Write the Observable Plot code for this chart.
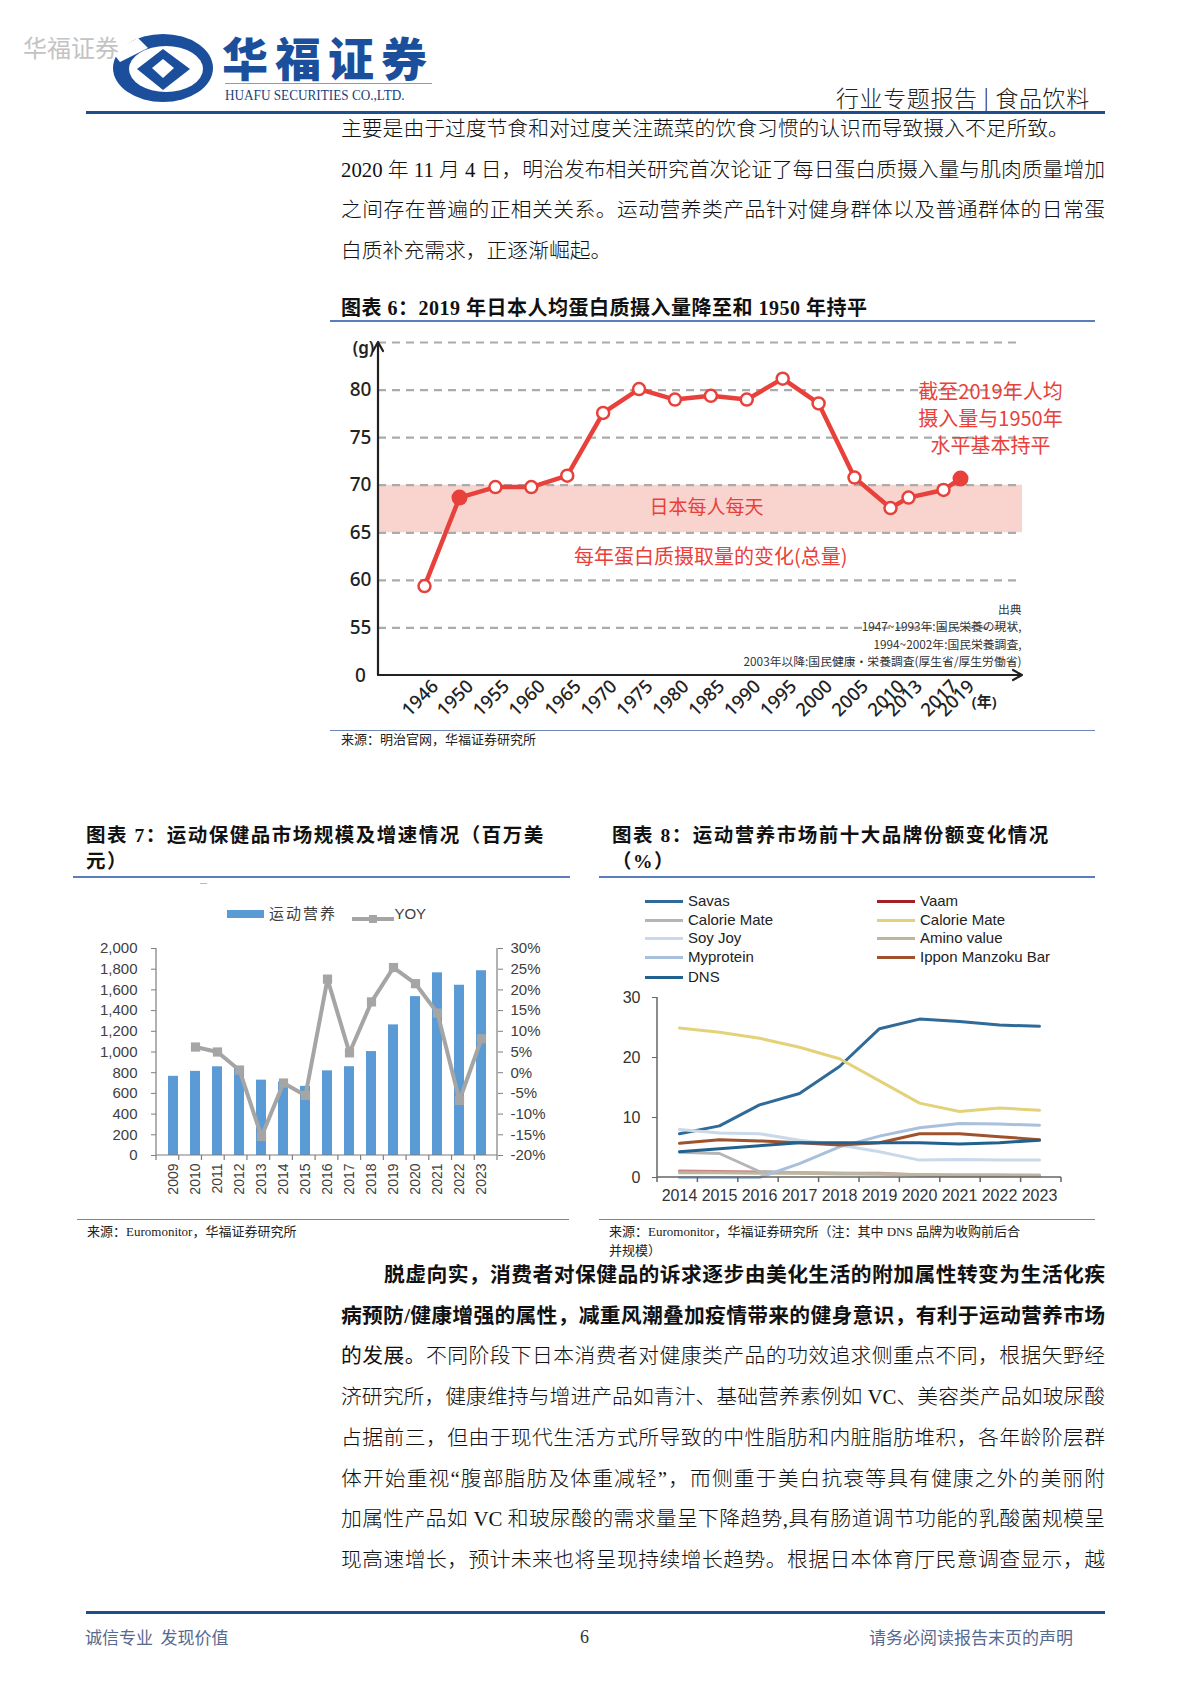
<!DOCTYPE html>
<html><head><meta charset="utf-8">
<script src="https://cdn.jsdelivr.net/npm/d3@7"></script>
<script src="https://cdn.jsdelivr.net/npm/@observablehq/plot@0.6"></script>
<style>
html,body{margin:0;padding:0;background:#fff;}
#page{position:relative;width:1190px;height:1683px;overflow:hidden;font-family:"Liberation Serif","Noto Sans CJK SC",serif;color:#111;background:#fff;}
.abs{position:absolute;white-space:nowrap;}
.bl{position:absolute;left:341px;width:764px;font-size:20.8px;line-height:24px;text-align:justify;text-align-last:justify;font-weight:300;}
.bl.last{text-align:left;text-align-last:left;}
.ttl{position:absolute;font-weight:bold;font-size:19.5px;line-height:26px;white-space:nowrap;letter-spacing:0.5px;}
.hr{position:absolute;height:1.5px;background:#5a7dbd;}
.src{position:absolute;font-size:13px;line-height:19px;color:#222;white-space:nowrap;}
.lg{position:absolute;font-family:"Liberation Sans",Arial,sans-serif;font-size:15px;color:#222;white-space:nowrap;line-height:18px;}
.sw{display:inline-block;vertical-align:middle;width:38px;height:3px;margin-right:5px;position:relative;top:-1px;}
svg{overflow:visible;}
</style></head>
<body><div id="page">

<!-- header -->
<svg class="abs" style="left:108px;top:32px" width="110" height="72" viewBox="0 0 110 72">
  <ellipse cx="55" cy="36" rx="50" ry="34" fill="#1b4f9c"/>
  <ellipse cx="58" cy="37" rx="37" ry="23" fill="#fff"/>
  <path d="M 29 37 L 55 17 L 82 37 L 55 58 Z" fill="#1b4f9c"/>
  <path d="M 44 36 L 55 27 L 66 36 L 55 46 Z" fill="#fff"/>
  <path d="M 4 20 L 30 6 L 40 16 L 12 30 Z" fill="#fff"/>
</svg>
<div class="abs" style="left:23px;top:32px;font-family:'Noto Sans CJK SC';font-size:24px;line-height:30px;color:#bdbdbd;opacity:0.9">华福证券</div>
<div class="abs" style="left:222px;top:26px;font-family:'Noto Sans CJK SC';font-weight:900;font-size:46px;line-height:60px;color:#1b4f9c;letter-spacing:7px">华福证券</div>
<div class="abs" style="left:225px;top:83px;width:207px;height:1px;background:#9a9a9a"></div>
<div class="abs" style="left:225px;top:86px;font-family:'Liberation Serif';font-size:15px;line-height:18px;color:#1b3f7c;transform:scaleX(0.88);transform-origin:left top;">HUAFU SECURITIES CO.,LTD.</div>
<div class="abs" style="left:836px;top:82px;font-family:'Noto Sans CJK SC';font-weight:300;font-size:23px;line-height:30px;color:#222;letter-spacing:0.6px">行业专题报告 | 食品饮料</div>
<div class="abs" style="left:86px;top:111px;width:1019px;height:3px;background:#1f4e8c"></div>

<!-- body top -->
<div class="bl last" style="top:117px">主要是由于过度节食和对过度关注蔬菜的饮食习惯的认识而导致摄入不足所致。</div>
<div class="bl" style="top:158px">2020 年 11 月 4 日，明治发布相关研究首次论证了每日蛋白质摄入量与肌肉质量增加</div>
<div class="bl" style="top:198px">之间存在普遍的正相关关系。运动营养类产品针对健身群体以及普通群体的日常蛋</div>
<div class="bl last" style="top:239px">白质补充需求，正逐渐崛起。</div>

<!-- chart 6 title -->
<div class="ttl" style="left:341px;top:295px;font-size:20px">图表 6：2019 年日本人均蛋白质摄入量降至和 1950 年持平</div>
<div class="hr" style="left:330px;top:320px;width:765px"></div>
<div id="c6" class="abs" style="left:330px;top:330px"></div>
<div class="hr" style="left:330px;top:730px;width:765px;height:1px;background:#6c86b8"></div>
<div class="src" style="left:341px;top:730px">来源：明治官网，华福证券研究所</div>

<!-- chart 7 -->
<div class="ttl" style="left:86px;top:823px;letter-spacing:1.5px">图表 7：运动保健品市场规模及增速情况（百万美<br>元）</div>
<div class="hr" style="left:73px;top:876px;width:497px"></div>
<div class="abs" style="left:200px;top:883px;width:7px;height:1px;background:#bbb"></div>
<div class="lg" style="left:227px;top:904px;font-family:'Noto Sans CJK SC','Liberation Sans';color:#404040">
  <span style="display:inline-block;width:37px;height:8px;background:#5b9bd5;vertical-align:middle;margin-right:5px;position:relative;top:-1px"></span><span style="letter-spacing:2px">运动营养</span>
  <span style="display:inline-block;width:42px;height:10px;vertical-align:middle;margin-left:12px;position:relative;top:-1px"><svg width="42" height="10"><line x1="0" y1="5" x2="42" y2="5" stroke="#a5a5a5" stroke-width="4"/><rect x="17" y="1" width="8" height="8" fill="#a5a5a5"/></svg></span><span style="font-family:'Liberation Sans',Arial">YOY</span>
</div>
<div id="c7" class="abs" style="left:60px;top:930px"></div>
<div class="hr" style="left:77px;top:1219px;width:492px;height:1px;background:#6c86b8"></div>
<div class="src" style="left:87px;top:1222px">来源：Euromonitor，华福证券研究所</div>

<!-- chart 8 -->
<div class="ttl" style="left:612px;top:823px;letter-spacing:1.5px">图表 8：运动营养市场前十大品牌份额变化情况<br>（%）</div>
<div class="hr" style="left:599px;top:876px;width:496px"></div>
<div id="lg8"></div>
<div id="c8" class="abs" style="left:600px;top:985px"></div>
<div class="hr" style="left:599px;top:1219px;width:496px;height:1px;background:#6c86b8"></div>
<div class="src" style="left:609px;top:1222px">来源：Euromonitor，华福证券研究所（注：其中 DNS 品牌为收购前后合<br>并规模）</div>

<!-- body bottom -->
<div class="bl" style="top:1263px;left:384px;width:721px;font-weight:bold">脱虚向实，消费者对保健品的诉求逐步由美化生活的附加属性转变为生活化疾</div>
<div class="bl" style="top:1304px;font-weight:bold">病预防/健康增强的属性，减重风潮叠加疫情带来的健身意识，有利于运动营养市场</div>
<div class="bl" style="top:1344px"><b>的发展。</b>不同阶段下日本消费者对健康类产品的功效追求侧重点不同，根据矢野经</div>
<div class="bl" style="top:1385px">济研究所，健康维持与增进产品如青汁、基础营养素例如 VC、美容类产品如玻尿酸</div>
<div class="bl" style="top:1426px">占据前三，但由于现代生活方式所导致的中性脂肪和内脏脂肪堆积，各年龄阶层群</div>
<div class="bl" style="top:1467px">体开始重视“腹部脂肪及体重减轻”，而侧重于美白抗衰等具有健康之外的美丽附</div>
<div class="bl" style="top:1507px">加属性产品如 VC 和玻尿酸的需求量呈下降趋势,具有肠道调节功能的乳酸菌规模呈</div>
<div class="bl" style="top:1548px">现高速增长，预计未来也将呈现持续增长趋势。根据日本体育厅民意调查显示，越</div>

<!-- footer -->
<div class="abs" style="left:86px;top:1611px;width:1019px;height:3px;background:#1f4e8c"></div>
<div class="abs" style="left:85px;top:1626px;font-size:17px;line-height:22px;color:#56698f;font-family:'Noto Sans CJK SC'">诚信专业&nbsp;&nbsp;发现价值</div>
<div class="abs" style="left:580px;top:1626px;font-size:18px;line-height:22px;color:#333">6</div>
<div class="abs" style="left:869px;top:1626px;font-size:17px;line-height:22px;color:#56698f;font-family:'Noto Sans CJK SC'">请务必阅读报告末页的声明</div>

</div>
<script>
// ---------- Chart 6 data ----------
const years6 = [1946,1950,1955,1960,1965,1970,1975,1980,1985,1990,1995,2000,2005,2010,2013,2017,2019];
const protein6 = [59.4,68.7,69.8,69.8,71.0,77.6,80.1,79.0,79.4,79.0,81.2,78.6,70.8,67.6,68.7,69.5,70.7];
const highlight6 = [1950,2019];
const yTickValues6 = [50,55,60,65,70,75,80];
const yTickLabels6 = ["0","55","60","65","70","75","80"];
const gridValues6 = [55,60,65,70,75,80,85];
const band6 = [65,70];
const yearUnit6 = "(年)";
const unit6 = "(g)";
const note6 = "截至2019年人均\n摄入量与1950年\n水平基本持平";
const bandLabel6 = "日本每人每天";
const seriesLabel6 = "每年蛋白质摄取量的变化(总量)";
const source6 = "出典\n1947~1993年:国民栄養の現状,\n1994~2002年:国民栄養調査,\n2003年以降:国民健康・栄養調査(厚生省/厚生労働省)";

// ---------- Chart 7 data ----------
const years7 = ["2009","2010","2011","2012","2013","2014","2015","2016","2017","2018","2019","2020","2021","2022","2023"];
const sales7 = [765,813,857,862,728,710,668,818,858,1004,1262,1535,1765,1645,1785];
const yoy7 = [null,6.2,5.0,0.6,-15.4,-2.5,-5.5,22.6,4.8,17.1,25.4,21.5,14.4,-6.7,8.2];
const leftTicks7 = [0,200,400,600,800,1000,1200,1400,1600,1800,2000];
const rightTicks7 = [-20,-15,-10,-5,0,5,10,15,20,25,30];

// ---------- Chart 8 data ----------
const years8 = ["2014","2015","2016","2017","2018","2019","2020","2021","2022","2023"];
const savas = [7.3,8.6,12.1,14.0,18.5,24.8,26.4,26.0,25.4,25.2];
const vaam = [1.1,1.0,0.9,0.8,0.7,0.7,0.4,0.3,0.3,0.3];
const calorieMateGray = [4.2,4.0,1.0,0.8,0.7,0.6,0.4,0.4,0.4,0.3];
const calorieMateYellow = [24.9,24.2,23.2,21.7,19.8,16.1,12.4,11.0,11.6,11.2];
const soyJoy = [8.0,7.4,7.3,6.2,5.4,4.3,2.9,3.0,2.9,2.9];
const aminoValue = [0.8,0.8,0.7,0.7,0.6,0.6,0.5,0.4,0.4,0.4];
const myprotein = [0,0,0,2.3,5.1,6.9,8.3,9.0,8.9,8.7];
const ipponManzoku = [5.7,6.3,6.1,5.8,5.4,5.8,7.3,7.3,6.8,6.3];
const dns = [4.3,4.8,5.3,5.8,5.8,5.8,5.8,5.6,5.8,6.2];
const yTicks8 = [0,10,20,30];

// ---------- Chart 6 ----------
const red = "#e8413b";
const rows6 = years6.map((y,i)=>({year:y, v:protein6[i]}));
function axes6(index, scales, values, dim){
  const g = d3.create("svg:g").attr("fill","none").attr("stroke","#222").attr("stroke-width",2.2).attr("stroke-linecap","round").attr("stroke-linejoin","round");
  const x0 = dim.marginLeft, y0 = dim.height - dim.marginBottom, xr = dim.width - dim.marginRight, yt = dim.marginTop;
  g.append("path").attr("d",`M${x0},${y0}H${xr}M${xr-9},${y0-5}L${xr},${y0}L${xr-9},${y0+5}`);
  g.append("path").attr("d",`M${x0},${y0}V${yt}M${x0-5},${yt+9}L${x0},${yt}L${x0+5},${yt+9}`);
  return g.node();
}
const c6 = Plot.plot({
  width:720, height:400, marginLeft:48, marginRight:28, marginTop:12, marginBottom:55,
  style:{fontFamily:"'Noto Sans','Noto Sans CJK SC',sans-serif", background:"transparent", overflow:"visible"},
  x:{type:"linear", domain:[1946,1950,2005,2010,2013,2017,2019], range:[94,129,524,560,578,613,630], axis:null},
  y:{domain:[50,85], axis:null},
  marks:[
    Plot.rect([band6], {y1:d=>d[0], y2:d=>d[1], fill:"#f9d4cf"}),
    Plot.ruleY(gridValues6, {stroke:"#ababab", strokeWidth:2.2, strokeDasharray:"8,6"}),
    axes6,
    Plot.line(rows6, {x:"year", y:"v", stroke:red, strokeWidth:4.5}),
    Plot.dot(rows6.filter(d=>!highlight6.includes(d.year)), {x:"year", y:"v", r:6, fill:"#fff", stroke:red, strokeWidth:2.5}),
    Plot.dot(rows6.filter(d=>highlight6.includes(d.year)), {x:"year", y:"v", r:8, fill:red}),
    Plot.text(yTickValues6, {y:d=>d, text:(d,i)=>yTickLabels6[i], frameAnchor:"left", dx:-18, textAnchor:"middle", fontSize:19, fontWeight:500, fill:"#222"}),
    Plot.text([85], {y:d=>d, text:()=>unit6, frameAnchor:"left", dx:-15, dy:6, textAnchor:"middle", fontSize:17, fontWeight:600, fill:"#222"}),
    Plot.text(years6, {x:d=>d, text:d=>String(d), frameAnchor:"bottom", dy:27, rotate:-45, textAnchor:"middle", fontSize:18.5, fontWeight:500, fill:"#222"}),
    Plot.text([yearUnit6], {text:d=>d, frameAnchor:"bottom-right", dx:-26, dy:31, fontSize:15, fontWeight:600, fill:"#222"}),
    Plot.text([note6], {y:()=>77.1, text:d=>d, frameAnchor:"right", dx:-32, textAnchor:"middle", lineAnchor:"middle", lineHeight:1.35, fontSize:20, fill:red, fontFamily:"'Noto Sans CJK SC'"}),
    Plot.text([bandLabel6], {x:()=>1984.4, y:()=>67.6, text:d=>d, fontSize:19, fill:red, fontFamily:"'Noto Sans CJK SC'", letterSpacing:"2px"}),
    Plot.text([seriesLabel6], {x:()=>1985, y:()=>62.4, text:d=>d, fontSize:20, fill:red, fontFamily:"'Noto Sans CJK SC'", letterSpacing:"1px"}),
    Plot.text([source6], {y:()=>54.3, text:d=>d, frameAnchor:"right", dx:-1, textAnchor:"end", lineAnchor:"middle", lineHeight:1.46, fontSize:11.8, fill:"#333", fontFamily:"'Noto Sans CJK JP'"})
  ]
});
document.getElementById("c6").appendChild(c6);

// ---------- Chart 7 ----------
const toLeft7 = v => (v + 20) * 40;
const rows7 = years7.map((y,i)=>({year:y, sales:sales7[i], yoy:yoy7[i]}));
const yoyRows7 = rows7.filter(d=>d.yoy!=null);
function axes7(index, scales, values, dim){
  const g = d3.create("svg:g").attr("fill","none").attr("stroke","#7f7f7f").attr("stroke-width",1.2);
  const x0 = dim.marginLeft, y0 = dim.height - dim.marginBottom, xr = dim.width - dim.marginRight, yt = dim.marginTop;
  const n = years7.length, step = (xr - x0) / n;
  let d = `M${x0},${yt}V${y0}M${xr},${yt}V${y0}M${x0},${y0}H${xr}`;
  for (let i = 0; i <= n; i++) d += `M${x0 + i*step},${y0}v5`;
  g.append("path").attr("d", d);
  return g.node();
}
const c7 = Plot.plot({
  width:510, height:280, marginLeft:96, marginRight:73, marginTop:18, marginBottom:55,
  style:{fontFamily:"'Liberation Sans',Arial,sans-serif", fontSize:"15px", color:"#404040", background:"transparent", overflow:"visible"},
  x:{type:"band", domain:years7, paddingInner:0.55, paddingOuter:0.275, axis:null, label:null},
  y:{domain:[0,2000], axis:null, label:null},
  marks:[
    Plot.barY(rows7, {x:"year", y:"sales", fill:"#5b9bd5"}),
    Plot.line(yoyRows7, {x:"year", y:d=>toLeft7(d.yoy), stroke:"#a5a5a5", strokeWidth:4}),
    Plot.dot(yoyRows7, {x:"year", y:d=>toLeft7(d.yoy), symbol:"square", r:5.2, fill:"#a5a5a5"}),
    Plot.axisY(leftTicks7, {anchor:"left", tickSize:5, tickPadding:14, tickFormat:d3.format(","), fontSize:15, stroke:"#7f7f7f", fill:"#404040", label:null}),
    Plot.axisY(rightTicks7.map(toLeft7), {anchor:"right", tickSize:5, tickPadding:8, tickFormat:d=>Math.round(d/40-20)+"%", fontSize:15, stroke:"#7f7f7f", fill:"#404040", label:null}),
    Plot.axisX({tickRotate:-90, tickSize:0, tickPadding:8, fontSize:14, fill:"#404040", label:null}),
    axes7
  ]
});
document.getElementById("c7").appendChild(c7);

// ---------- Chart 8 ----------
const series8 = [
  {name:"Savas", values:savas, color:"#2f6a98", col:0, row:0},
  {name:"Vaam", values:vaam, color:"#a31f24", col:1, row:0, opacity:0.55},
  {name:"Calorie Mate", values:calorieMateGray, color:"#b5b5b5", col:0, row:1},
  {name:"Calorie Mate", values:calorieMateYellow, color:"#e3d27a", col:1, row:1},
  {name:"Soy Joy", values:soyJoy, color:"#c9d9ea", col:0, row:2},
  {name:"Amino value", values:aminoValue, color:"#bdb59c", col:1, row:2},
  {name:"Myprotein", values:myprotein, color:"#a8c0dc", col:0, row:3},
  {name:"Ippon Manzoku Bar", values:ipponManzoku, color:"#a0522d", col:1, row:3},
  {name:"DNS", values:dns, color:"#21618f", col:0, row:4}
];
function axes8(index, scales, values, dim){
  const g = d3.create("svg:g").attr("fill","none").attr("stroke","#666").attr("stroke-width",1.5);
  const x0 = dim.marginLeft, y0 = dim.height - dim.marginBottom, xr = dim.width - dim.marginRight, yt = dim.marginTop;
  const n = years8.length, step = (xr - x0) / n;
  let d = `M${x0},${yt}V${y0}M${x0},${y0}H${xr}`;
  for (let i = 0; i <= n; i++) d += `M${x0 + i*step},${y0}v5`;
  g.append("path").attr("d", d);
  return g.node();
}
const c8 = Plot.plot({
  width:470, height:230, marginLeft:57, marginRight:9, marginTop:12, marginBottom:38,
  style:{fontFamily:"'Liberation Sans',Arial,sans-serif", fontSize:"16px", color:"#333", background:"transparent", overflow:"visible"},
  x:{type:"point", domain:years8, padding:0.5, axis:null, label:null},
  y:{domain:[0,30], axis:null, label:null},
  marks:[
    ...series8.map(s => Plot.line(years8.map((y,i)=>({year:y, v:s.values[i]})), {x:"year", y:"v", stroke:s.color, strokeWidth:3, strokeOpacity:s.opacity ?? 1})),
    Plot.axisY(yTicks8, {anchor:"left", tickSize:5, tickPadding:12, fontSize:16, stroke:"#666", fill:"#333", label:null}),
    Plot.axisX({tickSize:0, tickPadding:12, fontSize:16, fill:"#333", label:null}),
    axes8
  ]
});
document.getElementById("c8").appendChild(c8);

// legend 8
const lg = document.getElementById("lg8");
const rowY8 = [892, 911, 929, 948, 968];
series8.forEach(s => {
  const el = document.createElement("div");
  el.className = "lg";
  el.style.left = (s.col === 0 ? 645 : 877) + "px";
  el.style.top = rowY8[s.row] + "px";
  el.innerHTML = `<span class="sw" style="background:${s.color}"></span>${s.name}`;
  lg.appendChild(el);
});
</script>
</body></html>
